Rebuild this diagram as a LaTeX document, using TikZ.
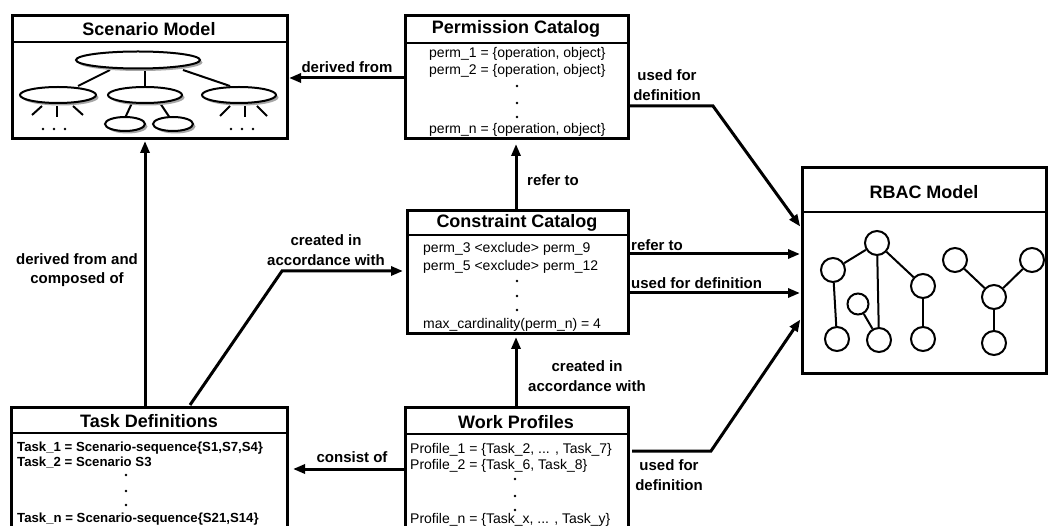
\documentclass[tikz,border=0pt]{standalone}
\usepackage{fontspec}
\setmainfont{Liberation Sans}
\usetikzlibrary{arrows.meta}
\begin{document}
\begin{tikzpicture}[x=1pt,y=-1pt,
  box/.style={draw,line width=3pt,inner sep=0pt,outer sep=0pt,rectangle,fill=white},
  sep/.style={line width=2.5pt},
  ttl/.style={font=\fontsize{18}{20}\selectfont\bfseries,inner sep=0pt},
  body/.style={font=\fontsize{14}{17}\selectfont,anchor=base west,inner sep=0pt},
  bodyb/.style={body,font=\fontsize{13.2}{17}\selectfont\bfseries},
  lbl/.style={font=\fontsize{15}{19.5}\selectfont\bfseries,align=center,inner sep=0pt},
  lbll/.style={lbl,anchor=west},
  arr/.style={line width=3pt,-{Triangle[length=12pt,width=9pt]},shorten >=2pt},
  dotm/.style={fill=black,draw=none,circle,minimum size=2.6pt,inner sep=0pt},
  ell/.style={draw,line width=2pt,fill=white},
  shd/.style={fill=black!35,draw=none},
  tree/.style={line width=2pt},
  vtx/.style={draw,line width=2pt,circle,fill=white,minimum size=24pt,inner sep=0pt},
  vtxs/.style={vtx,minimum size=21pt}
]
\useasboundingbox (0,0) rectangle (1049,526);
\clip (0,0) rectangle (1049,526);
\fill[white] (0,0) rectangle (1049,526);

% ---------- boxes ----------
\node[box,minimum width=275pt,minimum height=123pt] (scen) at (149.5,77.5) {};
\node[box,minimum width=223pt,minimum height=123pt] (perm) at (516.5,77.5) {};
\node[box,minimum width=221pt,minimum height=123pt] (cons) at (517.5,272.5) {};
\node[box,minimum width=244pt,minimum height=205pt] (rbac) at (924,270.5) {};
\node[box,minimum width=276pt,minimum height=133pt] (task) at (149,473.5) {};
\node[box,minimum width=223pt,minimum height=133pt] (work) at (516.5,473.5) {};

% title bars
\draw[sep] (scen.west |- 0,42) -- (scen.east |- 0,42);
\draw[sep] (perm.west |- 0,43) -- (perm.east |- 0,43);
\draw[sep] (cons.west |- 0,235) -- (cons.east |- 0,235);
\draw[sep] (rbac.west |- 0,212) -- (rbac.east |- 0,212);
\draw[sep] (task.west |- 0,433) -- (task.east |- 0,433);
\draw[sep] (work.west |- 0,434) -- (work.east |- 0,434);

\node[ttl] (scenT) at (149,29) {Scenario Model};
\node[ttl] (permT) at (516,29) {Permission Catalog};
\node[ttl] (consT) at (517,223) {Constraint Catalog};
\node[ttl] (rbacT) at (924,192) {RBAC Model};
\node[ttl] (taskT) at (149,421) {Task Definitions};
\node[ttl] (workT) at (516,422) {Work Profiles};

% ---------- permission catalog ----------
\node[body] (p1) at (429,58) {perm\_1 = \{operation, object\}};
\node[body] (p2) at (429,75) {perm\_2 = \{operation, object\}};
\node[dotm] (pd1) at (517,86) {};
\node[dotm] (pd2) at (517,103) {};
\node[dotm] (pd3) at (517,117) {};
\node[body] (pn) at (429,134) {perm\_n = \{operation, object\}};

% ---------- constraint catalog ----------
\node[body] (c1) at (423,253) {perm\_3 <exclude> perm\_9};
\node[body] (c2) at (423,271) {perm\_5 <exclude> perm\_12};
\node[dotm] (cd1) at (517,281) {};
\node[dotm] (cd2) at (517,296) {};
\node[dotm] (cd3) at (517,310) {};
\node[body] (cn) at (423,329) {max\_cardinality(perm\_n) = 4};

% ---------- task definitions ----------
\node[bodyb] (t1) at (17,451) {Task\_1 = Scenario-sequence\{S1,S7,S4\}};
\node[bodyb] (t2) at (17,466) {Task\_2 = Scenario S3};
\node[dotm] (td1) at (126,475) {};
\node[dotm] (td2) at (126,491) {};
\node[dotm] (td3) at (126,505) {};
\node[bodyb] (tn) at (17,522) {Task\_n = Scenario-sequence\{S21,S14\}};

% ---------- work profiles ----------
\node[body] (w1) at (410,453) {Profile\_1 = \{Task\_2, ... , Task\_7\}};
\node[body] (w2) at (410,469) {Profile\_2 = \{Task\_6, Task\_8\}};
\node[dotm] (wd1) at (515,479) {};
\node[dotm] (wd2) at (515,496) {};
\node[dotm] (wd3) at (515,510) {};
\node[body] (wn) at (410,523) {Profile\_n = \{Task\_x, ... , Task\_y\}};

% ---------- scenario tree ----------
\draw[tree] (110,70) -- (78,86);
\draw[tree] (145,70) -- (145,87);
\draw[tree] (183,70) -- (230,86);
\draw[tree] (132,103) -- (125,118);
\draw[tree] (160,103) -- (170,118);
% leaf stubs
\draw[tree] (42,106) -- (32,115);
\draw[tree] (57,106) -- (57,117);
\draw[tree] (73,106) -- (83,115);
\draw[tree] (230,106) -- (220,116);
\draw[tree] (245,106) -- (245,117);
\draw[tree] (257,106) -- (267,116);
% shadows
\fill[shd] (140.5,62.5) ellipse [x radius=62, y radius=8.5];
\fill[shd] (60.5,97.5) ellipse [x radius=38, y radius=8];
\fill[shd] (147.5,97.5) ellipse [x radius=37, y radius=8];
\fill[shd] (241.5,97.5) ellipse [x radius=37, y radius=8];
\fill[shd] (127.5,126.5) ellipse [x radius=20, y radius=7];
\fill[shd] (175.5,126.5) ellipse [x radius=20, y radius=7];
% ellipses
\draw[ell] (138,60) ellipse [x radius=62, y radius=8.5];
\draw[ell] (58,95) ellipse [x radius=38, y radius=8];
\draw[ell] (145,95) ellipse [x radius=37, y radius=8];
\draw[ell] (239,95) ellipse [x radius=37, y radius=8];
\draw[ell] (125,124) ellipse [x radius=20, y radius=7];
\draw[ell] (173,124) ellipse [x radius=20, y radius=7];
% ellipsis dots
\foreach \x in {43,54,65} \node[dotm] at (\x,129) {};
\foreach \x in {231,242,253} \node[dotm] at (\x,129) {};

% ---------- RBAC graph ----------
\node[vtx] (r0) at (877,243) {};
\node[vtx] (r1) at (833,270) {};
\node[vtxs] (r2) at (858,304) {};
\node[vtx] (r3) at (923,286) {};
\node[vtx] (r4) at (837,339) {};
\node[vtx] (r5) at (879,340) {};
\node[vtx] (r6) at (923,339) {};
\node[vtx] (y1) at (955,260) {};
\node[vtx] (y2) at (1032,260) {};
\node[vtx] (y3) at (994,297) {};
\node[vtx] (y4) at (994,343) {};
\draw[tree] (r0) -- (r1);
\draw[tree] (r0) -- (r5);
\draw[tree] (r0) -- (r3);
\draw[tree] (r1) -- (r4);
\draw[tree] (r2) -- (r5);
\draw[tree] (r3) -- (r6);
\draw[tree] (y1) -- (y3);
\draw[tree] (y2) -- (y3);
\draw[tree] (y3) -- (y4);

% ---------- connectors ----------
\draw[arr] (perm.west |- 0,78) -- (scen.east |- 0,78);
\node[lbl] (lDer) at (347,67) {derived from};

\draw[arr] (task.north -| 145,0) -- (scen.south -| 145,0);
\node[lbl] (lComp) at (77,270) {derived from and\\composed of};

\coordinate (k1) at (282,271);
\draw[arr,shorten >=4pt] (190,405) -- (k1) -- (cons.west |- k1);
\node[lbl] (lAcc1) at (326,250) {created in\\accordance with};

\draw[arr,shorten >=5pt] (cons.north -| 516,0) -- (perm.south -| 516,0);
\node[lbll] (lRef1) at (527,180) {refer to};

\draw[arr,shorten >=3pt] (work.north -| 516,0) -- (cons.south -| 516,0);
\node[lbl] (lAcc2) at (587,376) {created in\\accordance with};

\draw[arr,shorten >=6pt] (work.west |- 0,469) -- (task.east |- 0,469);
\node[lbl] (lCon) at (352,457) {consist of};

\coordinate (k2) at (713,106);
\draw[arr,shorten >=3pt] (perm.east |- k2) -- (k2) -- (rbac.west |- 0,229);
\node[lbl] (lUse1) at (667,85) {used for\\definition};

\draw[arr] (cons.east |- 0,254) -- (rbac.west |- 0,254);
\node[lbll] (lRef2) at (631,245) {refer to};

\draw[arr] (cons.east |- 0,293) -- (rbac.west |- 0,293);
\node[lbll] (lUse2) at (631,283) {used for definition};

\coordinate (k3) at (711,451);
\draw[arr,shorten >=3pt] (632,451) -- (k3) -- (rbac.west |- 0,317);
\node[lbl] (lUse3) at (669,475) {used for\\definition};
\end{tikzpicture}
\end{document}
